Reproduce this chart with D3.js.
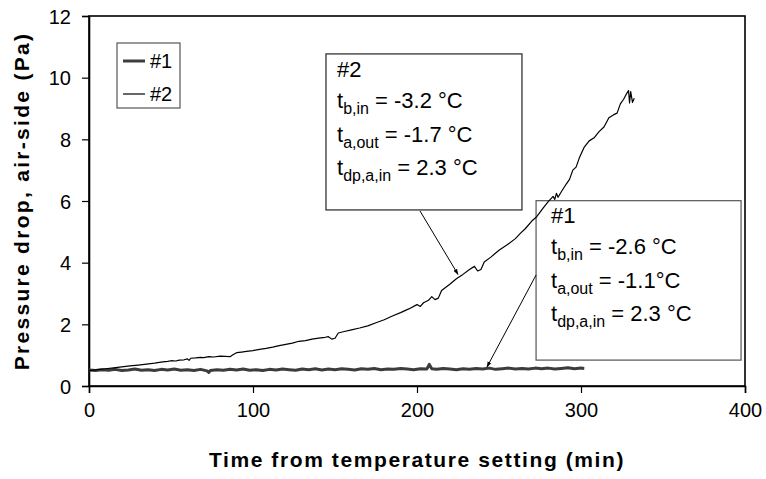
<!DOCTYPE html>
<html>
<head>
<meta charset="utf-8">
<script src="https://cdn.jsdelivr.net/npm/d3@7"></script>
<style>
  body { margin: 0; background: #fff; }
  svg { display: block; font-family: "Liberation Sans", Arial, sans-serif; }
</style>
</head>
<body>
<div id="chart"></div>
<script>
// test #1 : thick grey trace, [min, Pa]
var run1 = [[0,0.52],[4,0.50],[8,0.53],[12,0.51],[16,0.54],[20,0.50],[24,0.52],[28,0.55],[32,0.51],[36,0.53],
  [40,0.50],[44,0.54],[48,0.52],[52,0.55],[56,0.51],[60,0.53],[64,0.50],[68,0.54],[72,0.49],[73,0.44],[74,0.50],
  [78,0.53],[82,0.51],[86,0.54],[90,0.52],[94,0.55],[98,0.51],[102,0.53],[106,0.50],[110,0.54],[114,0.52],
  [118,0.55],[122,0.53],[126,0.51],[130,0.55],[134,0.53],[138,0.56],[142,0.52],[146,0.55],[150,0.53],[154,0.56],
  [158,0.54],[162,0.52],[166,0.56],[170,0.54],[174,0.57],[178,0.53],[182,0.55],[186,0.54],[190,0.57],[194,0.55],
  [198,0.53],[202,0.56],[206,0.55],[207.5,0.70],[209,0.56],[212,0.54],[216,0.57],[220,0.55],[224,0.53],[228,0.56],
  [232,0.54],[236,0.57],[240,0.55],[244,0.58],[248,0.54],[252,0.56],[256,0.58],[260,0.55],[264,0.57],[268,0.55],
  [272,0.58],[276,0.56],[280,0.58],[284,0.55],[288,0.57],[292,0.59],[296,0.56],[300,0.58],[302,0.57]];

// test #2 : thin black trace
var run2 = [[0,0.50],[5,0.53],[10,0.56],[15,0.59],[20,0.62],[25,0.65],[30,0.68],[35,0.71],[40,0.74],[45,0.78],
  [48,0.80],[50,0.82],[53,0.81],[55,0.84],[58,0.85],[60,0.88],[61,0.83],[62,0.90],[65,0.91],[68,0.93],[70,0.92],
  [73,0.95],[76,0.94],[80,0.97],[83,0.96],[86,0.95],[88,1.02],[90,1.08],[93,1.10],[96,1.12],[100,1.15],[104,1.19],
  [108,1.22],[112,1.26],[116,1.31],[120,1.35],[124,1.39],[128,1.45],[132,1.47],[136,1.52],[140,1.55],[144,1.58],
  [146,1.60],[148,1.52],[150,1.55],[152,1.72],[155,1.76],[160,1.82],[165,1.88],[170,1.95],[175,2.05],[180,2.15],
  [185,2.27],[190,2.38],[195,2.50],[200,2.64],[202,2.58],[204,2.70],[207,2.78],[209,2.90],[211,2.80],[213,2.85],
  [215,3.10],[220,3.30],[224,3.48],[228,3.62],[232,3.78],[235,3.88],[237,3.73],[239,3.78],[241,4.02],[245,4.18],
  [250,4.40],[255,4.58],[260,4.78],[263,4.95],[266,5.10],[270,5.35],[273,5.49],[277,5.78],[280,5.98],[283,6.15],
  [284,6.05],[285,6.25],[286,6.12],[288,6.30],[291,6.55],[293,6.70],[295,7.00],[297,7.10],[299,7.40],[302,7.75],
  [305,7.95],[308,8.05],[311,8.25],[314,8.40],[317,8.70],[320,8.80],[322,8.85],[324,9.15],[326,9.30],[328,9.50],
  [329,9.58],[329.6,9.18],[330.3,9.55],[331.4,9.20],[332.5,9.33]];

var xTicks = [0,100,200,300,400];
var yTicks = [0,2,4,6,8,10,12];
var seriesNames = ["#1","#2"];

// annotation boxes, in data units: [x0, x1, yTop, yBottom]
var note2Box = [144.5, 264, 10.77, 5.71];
var note1Box = [272.6, 397.6, 6.01, 0.84];
var note2Lines = [["#2","",""],["t","b,in"," = -3.2 °C"],["t","a,out"," = -1.7 °C"],["t","dp,a,in"," = 2.3 °C"]];
var note1Lines = [["#1","",""],["t","b,in"," = -2.6 °C"],["t","a,out"," = -1.1°C"],["t","dp,a,in"," = 2.3 °C"]];
// arrows: [from x, from y, to x, to y]
var arrow2 = [201.8, 5.68, 225, 3.62];
var arrow1 = [272.6, 3.60, 242.7, 0.62];

var W = 766, H = 479;
var m = {left: 89, top: 16, right: 21, bottom: 93};

var svg = d3.select("#chart").append("svg").attr("width", W).attr("height", H);

var x = d3.scaleLinear().domain([0,400]).range([m.left, W - m.right]);
var y = d3.scaleLinear().domain([0,12]).range([H - m.bottom, m.top]);

svg.append("defs").append("marker")
  .attr("id","ah").attr("viewBox","0 0 10 10").attr("refX",9).attr("refY",5)
  .attr("markerWidth",6).attr("markerHeight",6).attr("orient","auto")
  .append("path").attr("d","M0,1.5L10,5L0,8.5z").attr("fill","#000");

// frame
svg.append("rect")
  .attr("x", x(0)).attr("y", y(12))
  .attr("width", x(400) - x(0)).attr("height", y(0) - y(12))
  .attr("fill","none").attr("stroke","#000").attr("stroke-width",1.6);

var xAxis = svg.append("g").attr("transform","translate(0," + y(0) + ")")
  .call(d3.axisBottom(x).tickValues(xTicks).tickSize(7).tickPadding(10));
var yAxis = svg.append("g").attr("transform","translate(" + x(0) + ",0)")
  .call(d3.axisLeft(y).tickValues(yTicks).tickSize(7).tickPadding(11));
[xAxis, yAxis].forEach(function(a){
  a.select(".domain").attr("stroke","#000").attr("stroke-width",1.6);
  a.selectAll(".tick line").attr("stroke","#000").attr("stroke-width",1.2);
  a.selectAll(".tick text").attr("fill","#000").style("font-size","20px")
    .style("font-family",'"Liberation Sans", Arial, sans-serif');
});
yAxis.selectAll(".tick text").attr("dy","0.35em");

// axis titles
svg.append("text")
  .attr("x", (x(0) + x(400)) / 2).attr("y", 467)
  .attr("text-anchor","middle").style("font-weight","bold").style("font-size","21px")
  .style("letter-spacing","1.6px")
  .text("Time from temperature setting (min)");
svg.append("text")
  .attr("transform","translate(29," + ((y(0) + y(12)) / 2) + ") rotate(-90)")
  .attr("text-anchor","middle").style("font-weight","bold").style("font-size","21px")
  .style("letter-spacing","2.3px")
  .text("Pressure drop, air-side (Pa)");

var line = d3.line().x(d => x(d[0])).y(d => y(d[1]));

// annotation boxes
function drawBox(b, lines, tx, ty0, col){
  svg.append("rect")
    .attr("x", x(b[0])).attr("y", y(b[2]))
    .attr("width", x(b[1]) - x(b[0])).attr("height", y(b[3]) - y(b[2]))
    .attr("fill","#fff").attr("stroke", col).attr("stroke-width",1.2);
  lines.forEach(function(l, i){
    var t = svg.append("text").attr("x", tx).attr("y", ty0 + (i === 0 ? 0 : i * 33.5 - 2.5))
      .style("font-size","22px").attr("fill","#000");
    t.append("tspan").text(l[0]);
    if (l[1]) {
      t.append("tspan").attr("dy", 6).style("font-size","16px").text(l[1]);
      t.append("tspan").attr("dy", -6).text(l[2]);
    }
  });
}
drawBox(note2Box, note2Lines, 337, 77, "#222");
drawBox(note1Box, note1Lines, 551, 223, "#555");

// series
svg.append("path").datum(run1).attr("d", line)
  .attr("fill","none").attr("stroke","#3c3c3c").attr("stroke-width",3).attr("stroke-linejoin","round");
svg.append("path").datum(run2).attr("d", line)
  .attr("fill","none").attr("stroke","#000").attr("stroke-width",1.2).attr("stroke-linejoin","round");

// arrows
[arrow2, arrow1].forEach(function(a){
  svg.append("line")
    .attr("x1", x(a[0])).attr("y1", y(a[1])).attr("x2", x(a[2])).attr("y2", y(a[3]))
    .attr("stroke","#000").attr("stroke-width",1).attr("marker-end","url(#ah)");
});

// legend
var lg = svg.append("g");
lg.append("rect").attr("x",117).attr("y",43).attr("width",63).attr("height",65)
  .attr("fill","#fff").attr("stroke","#555").attr("stroke-width",1.2);
seriesNames.forEach(function(n, i){
  var yy = 61 + i * 33;
  lg.append("line").attr("x1",123).attr("x2",145).attr("y1",yy).attr("y2",yy)
    .attr("stroke", i === 0 ? "#3c3c3c" : "#000").attr("stroke-width", i === 0 ? 3 : 1.2);
  lg.append("text").attr("x",150).attr("y",yy + 7).style("font-size","20px").text(n);
});
</script>
</body>
</html>
